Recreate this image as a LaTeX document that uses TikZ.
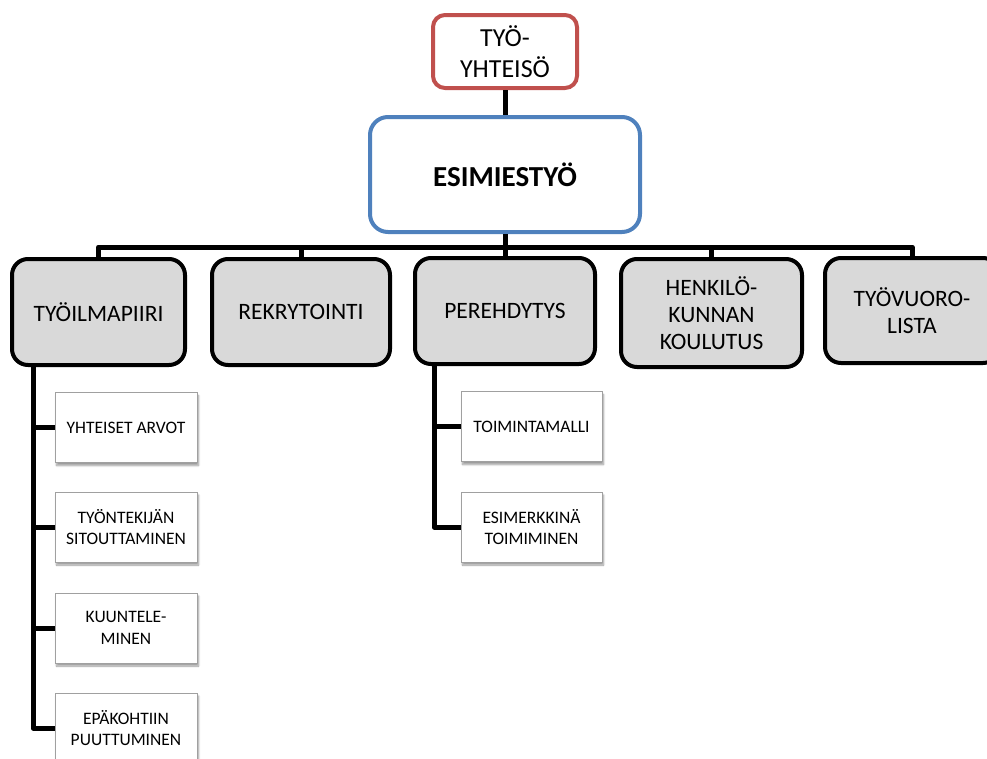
\documentclass[tikz,border=0pt]{standalone}
\usepackage{fontspec}
\setmainfont{Carlito}
\usetikzlibrary{shadows.blur}
\definecolor{redb}{HTML}{C0504D}
\definecolor{blueb}{HTML}{4F81BD}
\definecolor{greyfill}{HTML}{D9D9D9}
\definecolor{subedge}{HTML}{A0A0A0}
\tikzset{
  topbox/.style={draw=redb, line width=4pt, rounded corners=12pt, fill=white, align=center,
    minimum width=144pt, minimum height=73pt, inner sep=0pt, font=\fontsize{26}{31}\selectfont},
  mainbox/.style={draw=blueb, line width=4pt, rounded corners=18pt, fill=white, align=center,
    minimum width=270pt, minimum height=115pt, inner sep=0pt, font=\fontsize{29}{32}\selectfont\bfseries},
  lvbox/.style={draw=black, line width=4pt, rounded corners=16pt, fill=greyfill, align=center,
    minimum height=106pt, inner sep=0pt, font=\fontsize{23.5}{27}\selectfont},
  subbox/.style={draw=subedge, line width=1pt, fill=white, align=center,
    minimum width=142pt, minimum height=70pt, inner sep=0pt, font=\fontsize{17.5}{21.5}\selectfont,
    blur shadow={shadow xshift=1.5pt, shadow yshift=-3pt, shadow blur steps=6, shadow opacity=40}},
  conn/.style={line width=5pt, draw=black}
}
\begin{document}
\begin{tikzpicture}[x=1pt,y=-1pt]
\path[use as bounding box] (0,0) rectangle (987,758);
% top
\node[topbox] (top) at (505,51.5) {TYÖ-\\YHTEISÖ};
\node[mainbox] (esim) at (505,174.5) {ESIMIESTYÖ};
% level 2
\node[lvbox, minimum width=173pt] (a) at (98.5,312) {TYÖILMAPIIRI};
\node[lvbox, minimum width=178pt] (b) at (301,312) {REKRYTOINTI};
\node[lvbox, minimum width=180pt] (c) at (505,311) {PEREHDYTYS};
\node[lvbox, minimum width=181pt, minimum height=108pt] (d) at (711.5,313) {HENKILÖ-\\KUNNAN\\KOULUTUS};
\node[lvbox, minimum width=174pt, minimum height=105pt] (e) at (912,310.5) {TYÖVUORO-\\LISTA};
\coordinate (bus) at (505,247);
% sub boxes
\node[subbox] (s1) at (126,427.5) {YHTEISET ARVOT};
\node[subbox] (s2) at (126,527) {TYÖNTEKIJÄN\\SITOUTTAMINEN};
\node[subbox] (s3) at (126,628) {KUUNTELE-\\MINEN};
\node[subbox] (s4) at (126,728) {EPÄKOHTIIN\\PUUTTUMINEN};
\node[subbox, minimum width=141pt] (p1) at (531.5,426.5) {TOIMINTAMALLI};
\node[subbox, minimum width=141pt] (p2) at (531.5,527) {ESIMERKKINÄ\\TOIMIMINEN};
% connectors
\draw[conn] (top.south) -- (esim.north);
\draw[conn] (esim.south) -- (bus);
\foreach \n in {a,b,c,d,e} { \draw[conn, line join=round] (bus) -| (\n.north); }
\foreach \n in {s1,s2,s3,s4} { \draw[conn, line join=round] ([xshift=-65.5pt]a.south) |- (\n.west); }
\foreach \n in {p1,p2} { \draw[conn, line join=round] ([xshift=-71pt]c.south) |- (\n.west); }
\end{tikzpicture}
\end{document}
